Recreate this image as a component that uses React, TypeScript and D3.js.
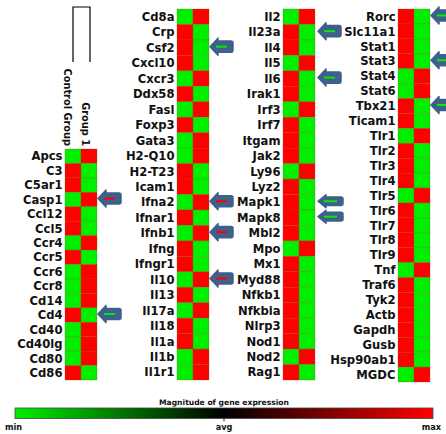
import React from 'react';
import * as d3 from 'd3';

// Sample groups (columns of every heatmap panel)
const groups = ['Control Group', 'Group 1'];

// Genes per panel, top to bottom
const panel1Genes = ['Apcs', 'C3', 'C5ar1', 'Casp1', 'Ccl12', 'Ccl5', 'Ccr4', 'Ccr5', 'Ccr6', 'Ccr8', 'Cd14', 'Cd4', 'Cd40', 'Cd40lg', 'Cd80', 'Cd86'];
const panel2Genes = ['Cd8a', 'Crp', 'Csf2', 'Cxcl10', 'Cxcr3', 'Ddx58', 'Fasl', 'Foxp3', 'Gata3', 'H2-Q10', 'H2-T23', 'Icam1', 'Ifna2', 'Ifnar1', 'Ifnb1', 'Ifng', 'Ifngr1', 'Il10', 'Il13', 'Il17a', 'Il18', 'Il1a', 'Il1b', 'Il1r1'];
const panel3Genes = ['Il2', 'Il23a', 'Il4', 'Il5', 'Il6', 'Irak1', 'Irf3', 'Irf7', 'Itgam', 'Jak2', 'Ly96', 'Lyz2', 'Mapk1', 'Mapk8', 'Mbl2', 'Mpo', 'Mx1', 'Myd88', 'Nfkb1', 'Nfkbia', 'Nlrp3', 'Nod1', 'Nod2', 'Rag1'];
const panel4Genes = ['Rorc', 'Slc11a1', 'Stat1', 'Stat3', 'Stat4', 'Stat6', 'Tbx21', 'Ticam1', 'Tlr1', 'Tlr2', 'Tlr3', 'Tlr4', 'Tlr5', 'Tlr6', 'Tlr7', 'Tlr8', 'Tlr9', 'Tnf', 'Traf6', 'Tyk2', 'Actb', 'Gapdh', 'Gusb', 'Hsp90ab1', 'MGDC'];

// Group 1 expression relative to control (+1 = higher / red, -1 = lower / green)
const panel1Group1 = [1, -1, -1, 1, -1, -1, 1, -1, 1, 1, 1, -1, 1, 1, 1, -1];
const panel2Group1 = [1, -1, -1, -1, 1, -1, 1, -1, 1, 1, -1, -1, 1, -1, 1, -1, -1, 1, -1, 1, -1, -1, 1, 1];
const panel3Group1 = [1, -1, -1, 1, -1, -1, 1, -1, -1, -1, 1, -1, -1, -1, -1, 1, -1, -1, -1, -1, -1, -1, 1, -1];
const panel4Group1 = [-1, -1, -1, -1, 1, 1, -1, -1, 1, -1, -1, -1, 1, -1, -1, -1, -1, 1, -1, -1, -1, -1, -1, -1, 1];

// Highlighted genes (arrows)
const highlightedGenes = ['Casp1', 'Cd4', 'Csf2', 'Ifna2', 'Ifnb1', 'Il10', 'Il23a', 'Il6', 'Mapk1', 'Mapk8', 'Rorc', 'Stat3', 'Tbx21'];

// Legend
const legendTitle = 'Magnitude of gene expression';
const legendStops = [-1, 0, 1];
const legendLabels = ['min', 'avg', 'max'];

const W = 446;
const H = 434;
const CELL_W = 16;
const FONT = '"DejaVu Sans", Verdana, sans-serif';
const ARROW_FILL = '#3f5f8c';

const color = d3.scaleLinear<string>().domain([-1, 0, 1]).range(['#00ee00', '#000000', '#ff0000']);

const panels = [
  { genes: panel1Genes, group1: panel1Group1, x: 65, top: 149, bottom: 380 },
  { genes: panel2Genes, group1: panel2Group1, x: 177, top: 9, bottom: 380 },
  { genes: panel3Genes, group1: panel3Group1, x: 283, top: 9, bottom: 380 },
  { genes: panel4Genes, group1: panel4Group1, x: 398, top: 9, bottom: 382 },
];

function Arrow({ x, cy, h, w, line }: { x: number; cy: number; h: number; w: number; line: string }) {
  const head = 9;
  const bodyH = h * 0.62;
  const top = cy - h / 2;
  const d = [
    `M${x + 1},${cy}`,
    `L${x + head},${top + 0.5}`,
    `L${x + head},${cy - bodyH / 2}`,
    `L${x + w - 2},${cy - bodyH / 2}`,
    `Q${x + w},${cy - bodyH / 2} ${x + w},${cy - bodyH / 2 + 2}`,
    `L${x + w},${cy + bodyH / 2 - 2}`,
    `Q${x + w},${cy + bodyH / 2} ${x + w - 2},${cy + bodyH / 2}`,
    `L${x + head},${cy + bodyH / 2}`,
    `L${x + head},${top + h - 0.5}`,
    'Z',
  ].join(' ');
  return (
    <g>
      <path d={d} fill={ARROW_FILL} stroke={ARROW_FILL} strokeWidth={1.5} strokeLinejoin="round" />
      <line x1={x + 7} x2={x + w - 6} y1={cy} y2={cy} stroke={line} strokeWidth={2} />
    </g>
  );
}

export default function App() {
  const legendX = d3.scaleLinear().domain([-1, 1]).range([15, 433]);
  return (
    <svg width={W} height={H} style={{ position: 'absolute', left: 0, top: 0, background: '#fff' }} fontFamily={FONT}>
      <defs>
        <linearGradient id="legendGrad" x1="0" x2="1" y1="0" y2="0">
          {legendStops.map((s) => (
            <stop key={s} offset={(s + 1) / 2} stopColor={color(s)} />
          ))}
        </linearGradient>
      </defs>

      {/* dendrogram bracket */}
      <path d="M73,62 L73,7 L90,7 L90,62" fill="none" stroke="#000" strokeWidth={1.2} />
      {/* group labels */}
      {groups.map((g, i) => (
        <text
          key={g}
          transform={`translate(${i === 0 ? 63.5 : 81.5},146) rotate(90)`}
          textAnchor="end"
          fontSize={9.8}
          fontWeight="bold"
          fill="#111"
        >
          {g}
        </text>
      ))}

      {panels.map((p, pi) => {
        const y = d3.scaleBand<string>().domain(p.genes).range([p.top, p.bottom]);
        const x = d3.scaleBand<string>().domain(groups).range([p.x, p.x + CELL_W * 2]);
        const bw = y.bandwidth();
        return (
          <g key={pi}>
            {p.genes.map((gene, gi) => {
              const vals = [-p.group1[gi], p.group1[gi]];
              const yy = y(gene)!;
              return (
                <g key={gene}>
                  {groups.map((g, k) => (
                    <rect
                      key={g}
                      x={x(g)!}
                      y={yy}
                      width={x.bandwidth()}
                      height={bw}
                      fill={color(vals[k])}
                      stroke="#7a5a10"
                      strokeOpacity={0.45}
                      strokeWidth={0.6}
                    />
                  ))}
                  <text
                    x={p.x - 2.5}
                    y={yy + bw / 2 + 4.2}
                    textAnchor="end"
                    fontSize={11.6}
                    fontWeight="bold"
                    fill="#111"
                  >
                    {gene}
                  </text>
                </g>
              );
            })}
            {p.genes.map((gene, gi) => {
              if (!highlightedGenes.includes(gene)) return null;
              const neighbor =
                highlightedGenes.includes(p.genes[gi - 1]) || highlightedGenes.includes(p.genes[gi + 1]);
              const h = neighbor ? bw - 1.5 : 18;
              return (
                <Arrow
                  key={'a' + gene}
                  x={p.x + CELL_W * 2 + (pi === 2 ? 2 : 0)}
                  cy={y(gene)! + bw / 2 - 1}
                  h={h}
                  w={neighbor ? 26 : 24}
                  line={color(p.group1[gi])}
                />
              );
            })}
          </g>
        );
      })}

      {/* legend */}
      <text x={224} y={405} textAnchor="middle" fontSize={7.6} fontWeight="bold" fill="#111">
        {legendTitle}
      </text>
      <rect x={legendX(-1)} y={408} width={legendX(1) - legendX(-1)} height={10.5} fill="url(#legendGrad)" stroke="#444" strokeWidth={0.8} />
      <line x1={legendX(0)} x2={legendX(0)} y1={418.5} y2={421.5} stroke="#333" strokeWidth={1} />
      {legendLabels.map((l, i) => (
        <text
          key={l}
          x={i === 0 ? 5 : i === 1 ? legendX(0) : 441}
          y={430}
          textAnchor={i === 0 ? 'start' : i === 1 ? 'middle' : 'end'}
          fontSize={8.2}
          fontWeight="bold"
          fill="#111"
        >
          {l}
        </text>
      ))}
    </svg>
  );
}
